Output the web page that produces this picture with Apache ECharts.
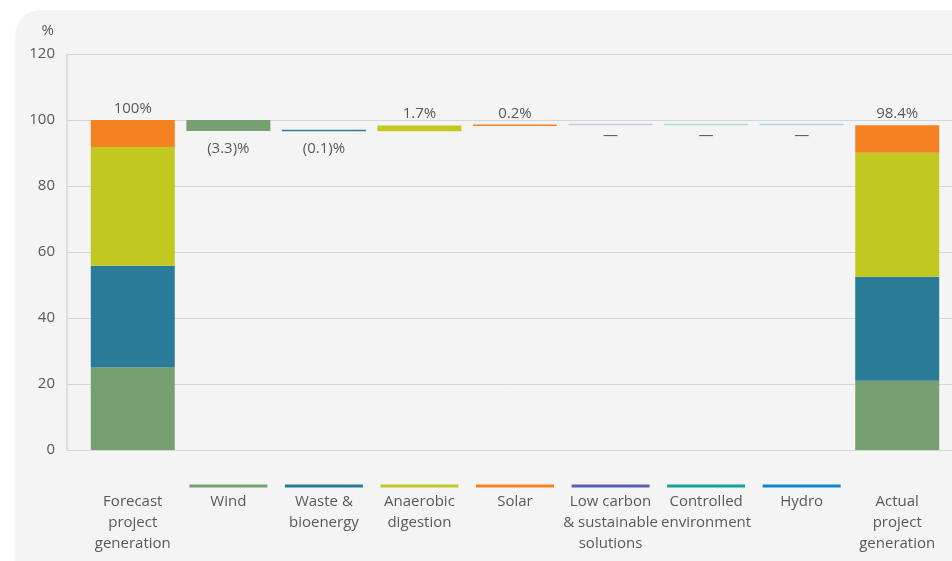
<!DOCTYPE html>
<html>
<head>
<meta charset="utf-8">
<script src="https://cdn.jsdelivr.net/npm/echarts@6/dist/echarts.min.js"></script>
<style>
  html, body { margin: 0; padding: 0; background: #ffffff; }
  #chart { width: 952px; height: 561px; }
</style>
</head>
<body>
<div id="chart"></div>
<script>
// categories along the bottom
const categories = [
  "Forecast\nproject\ngeneration",
  "Wind",
  "Waste &\nbioenergy",
  "Anaerobic\ndigestion",
  "Solar",
  "Low carbon\n& sustainable\nsolutions",
  "Controlled\nenvironment",
  "Hydro",
  "Actual\nproject\ngeneration",
];
// colour of the small line above each label (none for the totals)
const lineColors = [null, "#76a072", "#2a7b98", "#c1c920", "#f58220", "#5a5fb0", "#17a19d", "#0b86cf", null];

// waterfall: invisible base + segments (%)
const baseValues = [0, 96.7, 96.6, 96.6, 98.2, 98.4, 98.4, 98.4, 0];
const windValues = [25, 3.3, "-", "-", "-", "-", "-", "-", 21];
const wasteValues = [30.8, "-", 0.1, "-", "-", "-", "-", "-", 31.5];
const anaerobicValues = [36, "-", "-", 1.7, "-", "-", "-", "-", 37.6];
const solarValues = [8.2, "-", "-", "-", 0.2, "-", "-", "-", 8.3];
const lowCarbonValues = ["-", "-", "-", "-", "-", 0, "-", "-", "-"];
const controlledValues = ["-", "-", "-", "-", "-", "-", 0, "-", "-"];
const hydroValues = ["-", "-", "-", "-", "-", "-", "-", 0, "-"];

const topLabels = ["100%", "", "", "1.7%", "0.2%", "", "", "", "98.4%"];
const bottomLabels = ["", "(3.3)%", "(0.1)%", "", "", "\u2014", "\u2014", "\u2014", ""];

const yTicks = [0, 20, 40, 60, 80, 100, 120];

const textColor = "#595959";
const fontFamily = "'Open Sans', sans-serif";

const chart = echarts.init(document.getElementById("chart"));

// rich styles for the axis labels
const rich = {
  t: { fontSize: 15, lineHeight: 21, color: textColor, fontFamily: fontFamily },
  n: { width: 78, height: 3, lineHeight: 10 },
};
lineColors.forEach(function (c, i) {
  if (c) rich["l" + i] = { width: 78, height: 3, lineHeight: 10, backgroundColor: c };
});

function stackSeries(name, values, color, extra) {
  return Object.assign({
    name: name,
    type: "bar",
    stack: "total",
    xAxisIndex: 0,
    yAxisIndex: 0,
    barWidth: 84,
    itemStyle: { color: color },
    data: values,
    silent: true,
  }, extra || {});
}

const option = {
  animation: false,
  backgroundColor: "#ffffff",
  textStyle: { fontFamily: fontFamily },
  graphic: [
    {
      type: "rect",
      z: -10,
      shape: { x: 15, y: 10, width: 1000, height: 600, r: 25 },
      style: { fill: "#f4f4f4" },
    },
  ],
  grid: [
    { left: 85, right: 7, top: 54, bottom: 111 },
    { left: 67, right: 0, top: 54, bottom: 111 },
  ],
  xAxis: [
    {
      type: "category",
      gridIndex: 0,
      data: categories,
      axisLine: { show: false },
      axisTick: { show: false },
      axisLabel: {
        interval: 0,
        margin: 31,
        formatter: function (value, idx) {
          const key = lineColors[idx] ? "l" + idx : "n";
          return "{" + key + "|}\n" + value.split("\n").map(function (s) {
            return "{t|" + s + "}";
          }).join("\n");
        },
        rich: rich,
      },
    },
    { type: "value", gridIndex: 1, min: 0, max: 1, show: false },
  ],
  yAxis: [
    { type: "value", gridIndex: 0, min: 0, max: 120, interval: 20, show: false },
    {
      type: "value",
      gridIndex: 1,
      min: yTicks[0],
      max: yTicks[yTicks.length - 1],
      interval: 20,
      name: "%",
      nameLocation: "end",
      nameGap: 23,
      nameTextStyle: {
        color: textColor,
        fontSize: 15,
        align: "right",
        verticalAlign: "middle",
        padding: [0, 13, 0, 0],
      },
      axisLine: { show: true, lineStyle: { color: "#d6d6d6", width: 1.5 } },
      axisTick: { show: false },
      axisLabel: { color: textColor, fontSize: 15, margin: 12 },
      splitLine: { lineStyle: { color: "#d6d6d6", width: 1 } },
    },
  ],
  series: [
    stackSeries("base", baseValues.map(function (v, i) {
      return {
        value: v,
        label: {
          show: bottomLabels[i] !== "",
          position: "insideTop",
          distance: bottomLabels[i] === "\u2014" ? 3 : 10,
          formatter: bottomLabels[i],
          color: textColor,
          fontSize: 15,
        },
      };
    }), "rgba(0,0,0,0)"),
    stackSeries("Wind", windValues, "#76a072"),
    stackSeries("Waste & bioenergy", wasteValues, "#2a7b98", { barMinHeight: 1.5 }),
    stackSeries("Anaerobic digestion", anaerobicValues, "#c1c920"),
    stackSeries("Solar", solarValues, "#f58220", { barMinHeight: 1.5 }),
    stackSeries("Low carbon & sustainable solutions", lowCarbonValues, "#c9c9e6", { barMinHeight: 1.5 }),
    stackSeries("Controlled environment", controlledValues, "#aadfe0", { barMinHeight: 1.5 }),
    stackSeries("Hydro", hydroValues, "#a9d6ee", { barMinHeight: 1.5 }),
    stackSeries("top", topLabels.map(function (t) {
      return t === "" ? "-" : 0;
    }), "rgba(0,0,0,0)", {
      label: {
        show: true,
        position: "top",
        distance: 4,
        color: textColor,
        fontSize: 15,
        formatter: function (p) { return topLabels[p.dataIndex]; },
      },
    }),
  ],
};

chart.setOption(option);
</script>
</body>
</html>
